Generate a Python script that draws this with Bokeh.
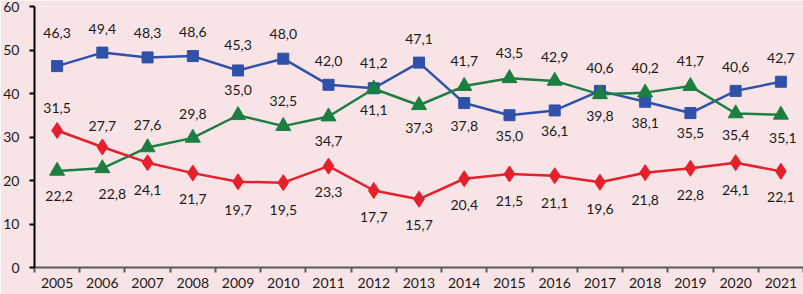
from bokeh.plotting import figure
from bokeh.models import ColumnDataSource, FixedTicker, Range1d
from bokeh.core.properties import value
from bokeh.embed import file_html
from bokeh.resources import INLINE

years = [2005, 2006, 2007, 2008, 2009, 2010, 2011, 2012, 2013, 2014, 2015, 2016, 2017, 2018, 2019, 2020, 2021]
year_labels = [str(y) for y in years]
blue_vals = [46.3, 49.4, 48.3, 48.6, 45.3, 48.0, 42.0, 41.2, 47.1, 37.8, 35.0, 36.1, 40.6, 38.1, 35.5, 40.6, 42.7]
green_vals = [22.2, 22.8, 27.6, 29.8, 35.0, 32.5, 34.7, 41.1, 37.3, 41.7, 43.5, 42.9, 39.8, 40.2, 41.7, 35.4, 35.1]
red_vals = [31.5, 27.7, 24.1, 21.7, 19.7, 19.5, 23.3, 17.7, 15.7, 20.4, 21.5, 21.1, 19.6, 21.8, 22.8, 24.1, 22.1]
y_ticks = [0, 10, 20, 30, 40, 50, 60]

# label placement (screen px offsets), kept apart from the data
blue_dy = [-33, -24, -24, -24, -25, -25, -24, -25, -24, 23, 21, 21, -23, 21, 20, -24, -24]
green_dy = [25, 26, -22, -24, -25, -25, 24, 21, 23, -25, -25, -24, 22, -25, -25, 21, 23]
red_dy = [-22, -21, 27, 26, 28, 27, 26, 26, 26, 26, 27, 27, 27, 27, 27, 27, 26]
green_dx = [2, 10, 0, 0, 0, 0, 0, 0, 0, 0, 0, 0, 0, 0, 0, 0, 2]

BG = "#F8E4E6"
BLUE = "#2F51AA"
GREEN = "#1C7F42"
RED = "#E5202B"
FONT = "Lato"

p = figure(width=803, height=294, output_backend="svg", toolbar_location=None,
           x_range=Range1d(2004.5, 2021.5), y_range=Range1d(0, 60),
           min_border_left=32, min_border_right=0, min_border_top=6, min_border_bottom=27)
p.background_fill_color = BG
p.border_fill_color = BG
p.outline_line_color = None
p.grid.visible = False

# axes
p.xaxis.ticker = FixedTicker(ticks=years, minor_ticks=[y - 0.5 for y in years] + [years[-1] + 0.5])
p.xaxis.major_label_overrides = {y: l for y, l in zip(years, year_labels)}
p.xaxis.major_tick_out = 0
p.xaxis.major_tick_in = 0
p.xaxis.minor_tick_out = 5
p.xaxis.minor_tick_in = 0
p.xaxis.minor_tick_line_color = "#595959"
p.xaxis.minor_tick_line_width = 2
p.xaxis.axis_line_color = "#595959"
p.xaxis.axis_line_width = 2
p.xaxis.major_label_standoff = 5

p.yaxis.ticker = FixedTicker(ticks=y_ticks)
p.yaxis.minor_tick_out = 0
p.yaxis.minor_tick_in = 0
p.yaxis.major_tick_out = 5
p.yaxis.major_tick_in = 0
p.yaxis.axis_line_color = "#000000"
p.yaxis.axis_line_width = 2
p.yaxis.major_tick_line_color = "#000000"
p.yaxis.major_tick_line_width = 2
p.yaxis.major_label_standoff = 10

for ax in (p.xaxis, p.yaxis):
    ax.major_label_text_font = FONT
    ax.major_label_text_font_size = "14px"
    ax.major_label_text_color = "#1a1a1a"

def series(vals, dy, dx, color, marker, size):
    src = ColumnDataSource(dict(x=years, y=vals, dy=dy, dx=dx,
                                lab=[f"{v:.1f}".replace(".", ",") for v in vals]))
    p.line("x", "y", source=src, line_color=color, line_width=2.5)
    p.scatter("x", "y", source=src, marker=marker, size=size, fill_color=color, line_color=color)
    return src

srcs = [
    series(blue_vals, blue_dy, [0] * len(years), BLUE, "square", 11),
    series(green_vals, green_dy, green_dx, GREEN, "triangle", 15),
    series(red_vals, red_dy, [0] * len(years), RED, "diamond", 16),
]
for src in srcs:
    p.text("x", "y", text="lab", source=src, x_offset="dx", y_offset="dy",
           text_align="center", text_baseline="middle",
           text_font=value(FONT), text_font_size="14px", text_color="#1a1a1a")

open("out.html", "w").write(file_html(p, INLINE))
